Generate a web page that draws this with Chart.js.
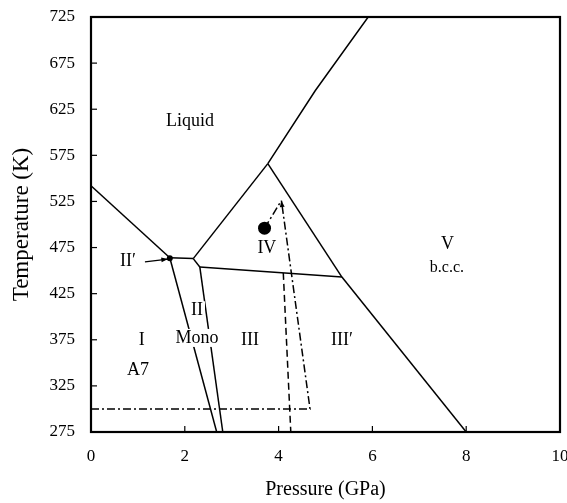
<!DOCTYPE html>
<html>
<head>
<meta charset="utf-8">
<script src="https://cdn.jsdelivr.net/npm/chart.js@4/dist/chart.umd.min.js"></script>
<style>
  html, body { margin: 0; padding: 0; background: #fff; }
  #wrap { width: 567px; height: 503px; }
</style>
</head>
<body>
<div id="wrap"><canvas id="myChart"></canvas></div>
<script>
// phase boundaries, [pressure GPa, temperature K]
var meltI = [[0, 542], [1.68, 464]];
var topII = [[1.68, 464], [2.18, 463]];
var cornerII = [[2.18, 463], [2.32, 454]];
var meltIV = [[2.18, 463], [3.77, 566]];
var meltV = [[3.77, 566], [4.78, 645], [5.91, 725]];
var lineIV_V = [[3.77, 566], [5.35, 443]];
var lineIII_IV = [[2.32, 454], [5.35, 443]];
var lineIIIp_V = [[5.35, 443], [8.0, 275]];
var lineI_II = [[1.68, 464], [2.68, 275]];
var lineII_III = [[2.32, 454], [2.81, 275]];
var lineIII_IIIp = [[4.10, 447.5], [4.26, 275]];
// experimental path (dash-dot)
var pathA = [[0, 300], [4.67, 300], [4.06, 526]];
var pathB = [[3.70, 496], [4.06, 526]];
var dotIV = [[3.70, 496]];
var dotII = [[1.68, 463.5]];

var xTicks = [0, 2, 4, 6, 8, 10];
var yTicks = [275, 325, 375, 425, 475, 525, 575, 625, 675, 725];

var regionLabels = ['Liquid', 'IV', 'V', 'b.c.c.', 'II\u2032', 'II', 'Mono', 'I', 'A7', 'III', 'III\u2032'];
var labelP = [2.11, 3.75, 7.6, 7.59, 0.79, 2.26, 2.26, 1.08, 1.0, 3.39, 5.35];
var labelT = [612, 474, 479, 453, 460, 407, 377, 374, 342, 374, 374];
var labelMask = [false, false, false, false, false, true, true, false, false, false, false];

// arrows: [from, to]
var arrows = [
    [[1.15, 459.5], [1.64, 462.5]],
    [[4.10, 510], [4.06, 526]]
];

function pts(a) {
    return a.map(function (p) { return { x: p[0], y: p[1] }; });
}

function lineSet(a, dash) {
    return {
        data: pts(a),
        showLine: true,
        borderColor: '#000',
        borderWidth: 1.5,
        borderDash: dash || [],
        pointRadius: 0,
        fill: false
    };
}

var dashDot = [8, 3, 2, 3];

var serif = '"Liberation Serif", "Times New Roman", serif';

var decor = {
    id: 'decor',
    afterDatasetsDraw: function (chart) {
        var ctx = chart.ctx;
        var xs = chart.scales.x, ys = chart.scales.y;
        var a = chart.chartArea;
        ctx.save();
        // inward ticks
        ctx.strokeStyle = '#000';
        ctx.lineWidth = 1.2;
        xTicks.forEach(function (v) {
            var px = xs.getPixelForValue(v);
            ctx.beginPath();
            ctx.moveTo(px, a.bottom);
            ctx.lineTo(px, a.bottom - 6);
            ctx.stroke();
        });
        yTicks.forEach(function (v) {
            var py = ys.getPixelForValue(v);
            ctx.beginPath();
            ctx.moveTo(a.left, py);
            ctx.lineTo(a.left + 6, py);
            ctx.stroke();
        });
        // frame
        ctx.lineWidth = 2.2;
        ctx.strokeRect(a.left, a.top, a.right - a.left, a.bottom - a.top);

        // arrows
        ctx.fillStyle = '#000';
        ctx.lineWidth = 1.2;
        arrows.forEach(function (ar, i) {
            var x0 = xs.getPixelForValue(ar[0][0]), y0 = ys.getPixelForValue(ar[0][1]);
            var x1 = xs.getPixelForValue(ar[1][0]), y1 = ys.getPixelForValue(ar[1][1]);
            if (i == 0) {
                ctx.beginPath();
                ctx.moveTo(x0, y0);
                ctx.lineTo(x1, y1);
                ctx.stroke();
            }
            var ang = Math.atan2(y1 - y0, x1 - x0);
            var len = 7;
            ctx.beginPath();
            ctx.moveTo(x1, y1);
            ctx.lineTo(x1 - len * Math.cos(ang - 0.35), y1 - len * Math.sin(ang - 0.35));
            ctx.lineTo(x1 - len * Math.cos(ang + 0.35), y1 - len * Math.sin(ang + 0.35));
            ctx.closePath();
            ctx.fill();
        });

        // region labels
        ctx.textAlign = 'center';
        ctx.textBaseline = 'middle';
        regionLabels.forEach(function (t, i) {
            var size = t == 'b.c.c.' ? 16 : 18;
            ctx.font = size + 'px ' + serif;
            var px = xs.getPixelForValue(labelP[i]);
            var py = ys.getPixelForValue(labelT[i]);
            if (labelMask[i]) {
                var w = ctx.measureText(t).width;
                ctx.fillStyle = '#fff';
                ctx.fillRect(px - w / 2 - 2, py - 9, w + 4, 18);
            }
            ctx.fillStyle = '#000';
            ctx.fillText(t, px, py);
        });
        ctx.restore();
    }
};

function createChart() {
    var ctx = document.getElementById('myChart');
    var dotStyle = function (a, r) {
        return { data: pts(a), showLine: false, pointRadius: r, pointBackgroundColor: '#000', pointBorderColor: '#000', pointBorderWidth: 0 };
    };
    new Chart(ctx, {
        type: 'scatter',
        data: {
            datasets: [
                lineSet(meltI), lineSet(topII), lineSet(cornerII), lineSet(meltIV), lineSet(meltV),
                lineSet(lineIV_V), lineSet(lineIII_IV), lineSet(lineIIIp_V), lineSet(lineI_II),
                lineSet(lineII_III),
                lineSet(lineIII_IIIp, [7, 4]),
                lineSet(pathA, dashDot), lineSet(pathB, dashDot),
                dotStyle(dotIV, 6.5), dotStyle(dotII, 3)
            ]
        },
        options: {
            responsive: true,
            maintainAspectRatio: false,
            animation: false,
            layout: { padding: { top: 17, right: 7, left: 0, bottom: 0 } },
            plugins: { legend: { display: false }, tooltip: { enabled: false } },
            scales: {
                x: {
                    type: 'linear',
                    min: 0, max: 10,
                    grid: { display: false, drawTicks: false },
                    border: { display: false },
                    ticks: { stepSize: 2, padding: 14, color: '#000', font: { family: serif, size: 17 } },
                    title: { display: true, text: 'Pressure (GPa)', color: '#000', font: { family: serif, size: 20 }, padding: { top: 0, bottom: 1 } },
                    afterFit: function (s) { s.height = 71; s.paddingLeft = 0; s.paddingRight = 0; }
                },
                y: {
                    type: 'linear',
                    min: 275, max: 725,
                    grid: { display: false, drawTicks: false },
                    border: { display: false },
                    ticks: { stepSize: 50, padding: 16, color: '#000', font: { family: serif, size: 17 } },
                    title: { display: true, text: 'Temperature (K)', color: '#000', font: { family: serif, size: 23 }, padding: { top: 8, bottom: 0 } },
                    afterFit: function (s) { s.width = 91; s.paddingTop = 0; s.paddingBottom = 0; }
                }
            }
        },
        plugins: [decor]
    });
}

createChart();
</script>
</body>
</html>
